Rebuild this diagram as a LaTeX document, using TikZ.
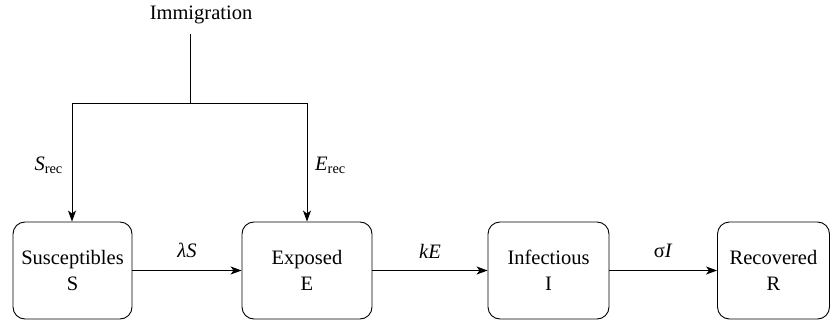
\documentclass[tikz,border=0pt]{standalone}
\usepackage{fontspec}
\setmainfont{Liberation Serif}
\usetikzlibrary{arrows.meta}
\begin{document}
\begin{tikzpicture}[x=1pt,y=-1pt,
  comp/.style={draw,line width=0.9pt,rounded corners=12pt,align=center,inner sep=0pt,
    minimum height=97pt,font=\fontsize{20.5}{26}\selectfont},
  flow/.style={line width=0.9pt,-{Stealth[length=11pt,width=8pt,inset=3pt]}},
  lbl/.style={font=\fontsize{20.5}{24}\selectfont,inner sep=0pt}]
\useasboundingbox (0,0) rectangle (831,321);
\node[comp,minimum width=119pt] (S) at (72.5,270.5) {Susceptibles\\S};
\node[comp,minimum width=130pt] (E) at (307,270.5) {Exposed\\E};
\node[comp,minimum width=121pt] (I) at (548.5,270.5) {Infectious\\I};
\node[comp,minimum width=112pt] (R) at (773.5,270.5) {Recovered\\R};
\node[lbl] (imm) at (201,15) {Immigration};
\coordinate (top) at (190,34);
\coordinate (mid) at (190,103);
\coordinate (jl) at (72,103);
\coordinate (jr) at (307,103);
\draw[line width=0.9pt] (top) -- (mid);
\draw[line width=0.9pt] (jl) -- (jr);
\draw[flow] (jl) -- (S.north -| jl);
\draw[flow] (jr) -- (E.north -| jr);
\draw[flow] (S) -- node[lbl,above=12pt] (l1) {\textit{λS}} (E);
\draw[flow] (E) -- node[lbl,above=12pt] (l2) {\textit{kE}} (I);
\draw[flow] (I) -- node[lbl,above=12pt] (l3) {σ\textit{I}} (R);
\node[lbl,anchor=east] (sr) at (63,165) {\textit{S}\textsubscript{rec}};
\node[lbl,anchor=west] (er) at (315,165) {\textit{E}\textsubscript{rec}};
\end{tikzpicture}
\end{document}
